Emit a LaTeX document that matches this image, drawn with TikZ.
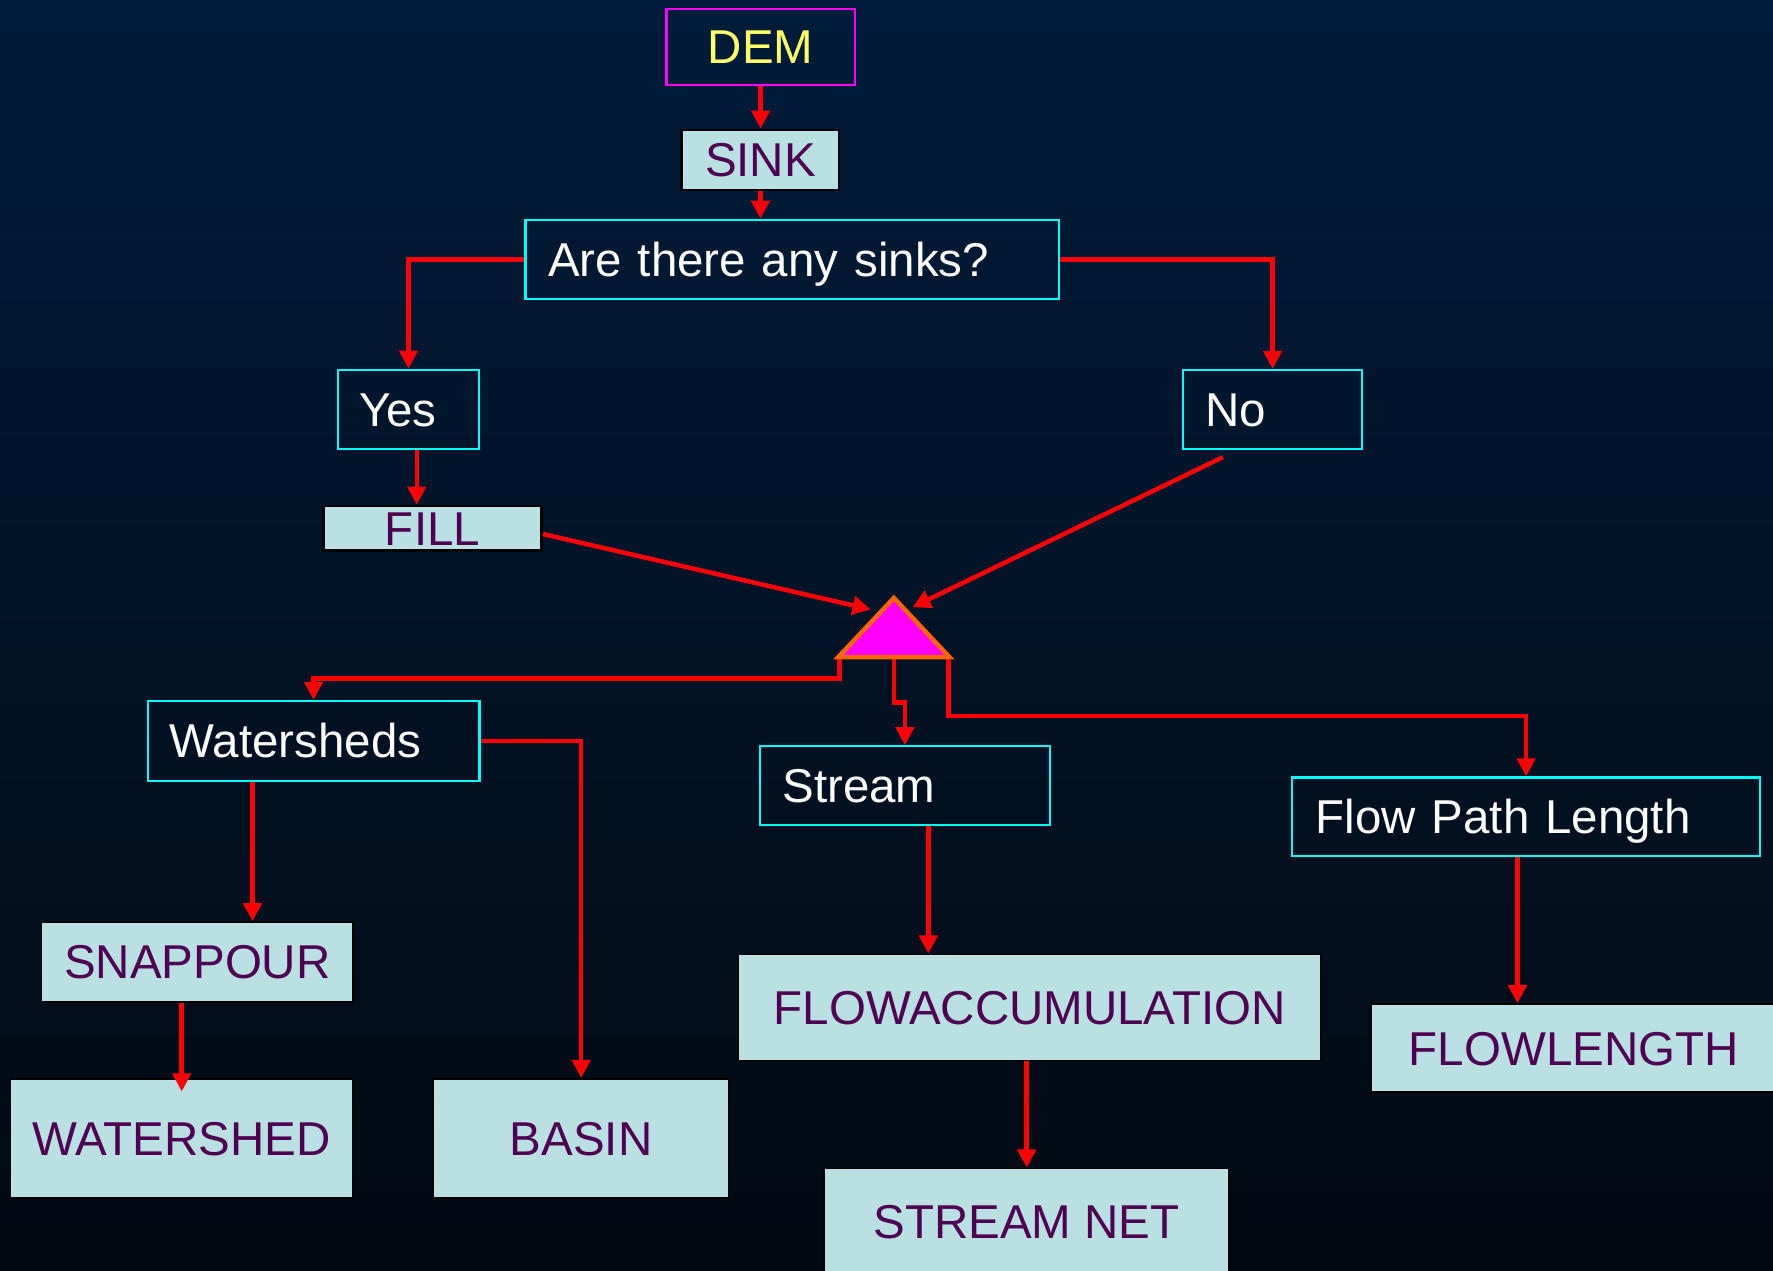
\documentclass[tikz,border=0pt]{standalone}
\usepackage{fontspec}
\setmainfont{Liberation Sans}
\usetikzlibrary{arrows.meta}
\definecolor{bgtop}{RGB}{0,28,58}
\definecolor{bgbot}{RGB}{1,9,18}
\definecolor{lbox}{RGB}{185,224,227}
\definecolor{ptext}{RGB}{80,0,80}
\definecolor{ylw}{RGB}{255,255,102}
\definecolor{arrred}{RGB}{255,0,0}
\definecolor{cyanb}{RGB}{0,255,255}
\definecolor{mag}{RGB}{255,0,255}
\definecolor{orng}{RGB}{255,102,0}
\begin{document}
\begin{tikzpicture}[x=1pt,y=-1pt,
  every node/.style={font=\fontsize{42}{50}\selectfont, inner sep=0pt, text height=30pt, text depth=0pt},
  darkbox/.style={draw=cyanb, line width=2pt, text=white, align=left},
  lightbox/.style={draw=black, line width=1.5pt, fill=lbox, text=ptext, align=center},
  conn/.style={draw=arrred, line width=4pt, -{Triangle[width=16pt,length=16pt]}},
]
\useasboundingbox (0,0) rectangle (1568,1124);
\clip (0,0) rectangle (1568,1124);
\shade[top color=bgtop, bottom color=bgbot] (0,0) rectangle (1568,1124);

% nodes
\node[draw=mag, line width=2pt, text=ylw, minimum width=166.5pt, minimum height=67pt] (dem) at (672.7,41.5) {DEM};
\node[lightbox, line width=2.5pt, minimum width=139pt, minimum height=53pt] (sink) at (672.5,141.5) {SINK};
\node[darkbox, text width=431.8pt, inner xsep=20pt, minimum height=70pt] (q) at (700.7,229.5) {Are there any sinks?};
\node[darkbox, text width=87.4pt, inner xsep=18.6pt, minimum height=70pt] (yes) at (361.3,362) {Yes};
\node[darkbox, text width=119pt, inner xsep=19.5pt, minimum height=70pt] (no) at (1125.5,362.3) {No};
\node[lightbox, line width=2.5pt, minimum width=193pt, minimum height=39.5pt] (fill) at (382.5,467.3) {FILL};
\node[minimum width=98pt, minimum height=52pt] (tri) at (790.5,555) {};
\coordinate (fillin) at (770,539);
\coordinate (noin) at (807,537);
\node[darkbox, text width=254.6pt, inner xsep=19.4pt, minimum height=70.7pt] (ws) at (277.3,655.3) {Watersheds};
\node[darkbox, text width=216.6pt, inner xsep=20pt, minimum height=69.7pt] (stream) at (800.3,694.9) {Stream};
\node[darkbox, text width=372pt, inner xsep=21pt, minimum height=69.4pt] (fpl) at (1349.6,722.3) {Flow Path Length};
\node[lightbox, minimum width=275.5pt, minimum height=70.6pt] (snap) at (174.5,850.7) {SNAPPOUR};
\node[lightbox, minimum width=303pt, minimum height=105.6pt] (wshed) at (160.7,1006.8) {WATERSHED};
\node[lightbox, minimum width=262pt, minimum height=105.6pt] (basin) at (514,1006.8) {BASIN};
\node[lightbox, minimum width=515.8pt, minimum height=94pt] (facc) at (910.6,891) {FLOWACCUMULATION};
\node[lightbox, minimum width=358pt, minimum height=94pt] (snet) at (907.8,1080.3) {STREAM NET};
\node[lightbox, minimum width=358.4pt, minimum height=78pt] (flen) at (1391.8,927) {FLOWLENGTH};

% connectors
\draw[conn] (dem.south) -- (dem.south |- sink.north);
\draw[conn] (sink.south) -- (sink.south |- q.north);
\draw[conn] (q.west) -| (yes.north);
\draw[conn] (q.east) -| (no.north);
\draw[conn] ([xshift=7.3pt]yes.south) -- ([xshift=7.3pt]yes.south |- fill.north);
\draw[conn] ([yshift=-5pt]fill.east) -- (fillin);
\draw[conn] ([xshift=-44pt,yshift=-6pt]no.south) -- (noin);
\draw[conn] ([xshift=1pt]tri.south west) -- ++(0,19) -| (ws.north);
\draw[conn] (tri.south) -- ++(0,40) -| (stream.north);
\draw[conn] ([xshift=-1pt]tri.south east) -- ++(0,52) -| (fpl.north);
\draw[conn] ([xshift=-54pt]ws.south) -- ([xshift=-54pt]ws.south |- snap.north);
\draw[conn] (ws.east) -| (basin.north);
\draw[conn] (snap.south -| wshed.north) -- ([yshift=-12pt]wshed.north);
\draw[conn] ([xshift=20.7pt]stream.south) -- ([xshift=20.7pt]stream.south |- facc.north);
\draw[conn] ([xshift=-2.6pt]facc.south) -- ([xshift=-2.6pt]facc.south |- snet.north);
\draw[conn] ([xshift=-7.6pt]fpl.south) -- ([xshift=-7.6pt]fpl.south |- flen.north);

% triangle
\filldraw[fill=mag, draw=orng, line width=4pt, line join=miter] (tri.north) -- (tri.south west) -- (tri.south east) -- cycle;
\end{tikzpicture}
\end{document}
